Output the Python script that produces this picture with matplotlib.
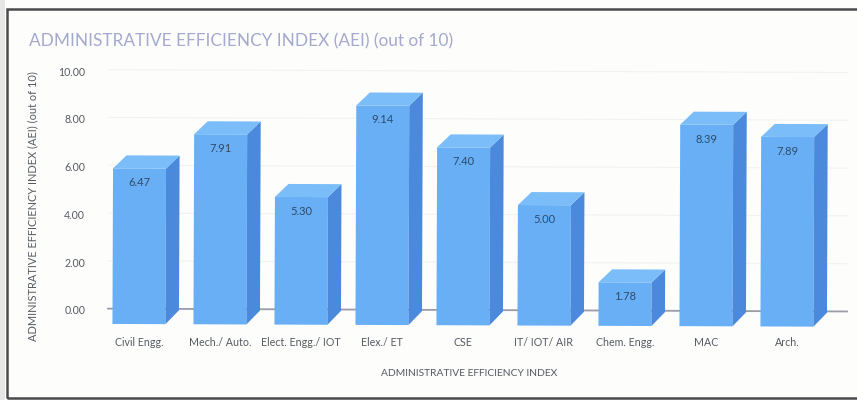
import matplotlib
matplotlib.use("Agg")
import matplotlib.pyplot as plt
from matplotlib.transforms import Affine2D

plt.rcParams['font.family'] = ['Lato', 'DejaVu Sans']

categories = ["Civil Engg.", "Mech./ Auto.", "Elect. Engg./ IOT", "Elex./ ET", "CSE",
              "IT/ IOT/ AIR", "Chem. Engg.", "MAC", "Arch."]
values = [6.47, 7.91, 5.30, 9.14, 7.40, 5.00, 1.78, 8.39, 7.89]
y_ticks = [0, 2, 4, 6, 8, 10]
title = "ADMINISTRATIVE EFFICIENCY INDEX (AEI) (out of 10)"
x_title = "ADMINISTRATIVE EFFICIENCY INDEX"
y_title = "ADMINISTRATIVE EFFICIENCY INDEX (AEI) (out of 10)"

W, H = 857, 400
fig = plt.figure(figsize=(W/100, H/100), dpi=100, facecolor="#fdfdfc")

# frame
fig.add_artist(plt.Rectangle((6.5/W, 1-398/H), 860/W, 389/H, fill=False, ec="#4a4a4c", lw=1.8,
                             transform=fig.transFigure))
fig.add_artist(plt.Rectangle((0, 0), 5/W, 1, fc="#e6e6e7", ec="none", transform=fig.transFigure))

# axes: y=0 at 310 px, y=10 at 71 px; categories 81 px apart, first centred at 139 px
ax_l, ax_r, ax_t, ax_b = 108, 847, 71, 310
ax = fig.add_axes([ax_l/W, 1-ax_b/H, (ax_r-ax_l)/W, (ax_b-ax_t)/H])
ax.patch.set_alpha(0)
ax.set_xlim(-(139-ax_l)/81, (ax_r-139)/81)
ax.set_ylim(0, 10)
for s in ax.spines.values():
    s.set_visible(False)

tilt = Affine2D().rotate_deg_around(*ax.transData.transform((4, 0)), -0.22)
tr = ax.transData + tilt

bar_w = 53/81
dx = 13.5/81            # depth to the right, category units
dy = 14/23.9            # depth of the base in value units
dy_top = 13/23.9        # depth of the top face in value units
shift = 1.3/23.9        # whole bar sits slightly below the nominal position

for t in y_ticks[1:]:
    ax.plot(ax.get_xlim(), [t, t], color="#f2f2f4", lw=0.8, transform=tr, zorder=1, clip_on=False)
ax.plot(ax.get_xlim(), [0, 0], color="#9a9ca8", lw=1.3, transform=tr, zorder=2, clip_on=False)

for i, v in enumerate(values):
    x0, x1 = i - bar_w/2, i + bar_w/2
    base = -dy - shift
    top = v - dy_top - shift
    ax.bar(i, top - base, width=bar_w, bottom=base, color="#68aff5", linewidth=0, transform=tr,
           zorder=3, clip_on=False)
    ax.fill([x1, x1+dx, x1+dx, x1], [base, base+dy, top+dy_top, top], color="#4a89db", lw=0,
            transform=tr, zorder=3, clip_on=False)
    ax.fill([x0, x1, x1+dx, x0+dx], [top, top, top+dy_top, top+dy_top], color="#7abdf8", lw=0,
            transform=tr, zorder=3, clip_on=False)
    ax.text(i, top-0.6, f"{v:.2f}", ha="center", va="center", fontsize=8, color="#2f4a68",
            transform=tr, zorder=4)

ax.set_xticks(range(len(categories)))
ax.set_xticklabels(categories, fontsize=7.7, color="#555a63")
ax.tick_params(axis='x', length=0, pad=19.5)
ax.set_yticks(y_ticks)
ax.set_yticklabels([f"{t:.2f}" for t in y_ticks], fontsize=7.6, color="#555a63")
ax.tick_params(axis='y', length=0, pad=16.5)

fig.text(29/W, 1-41.5/H, title, fontsize=12.45, color="#a4a9cf", ha="left", va="center")
fig.text(469/W, 1-373/H, x_title, fontsize=7.4, color="#555a63", ha="center", va="center")
fig.text(33/W, 1-206/H, y_title, fontsize=7.9, color="#555a63", ha="center", va="center", rotation=90)

fig.savefig("out.png", dpi=100, facecolor=fig.get_facecolor())
